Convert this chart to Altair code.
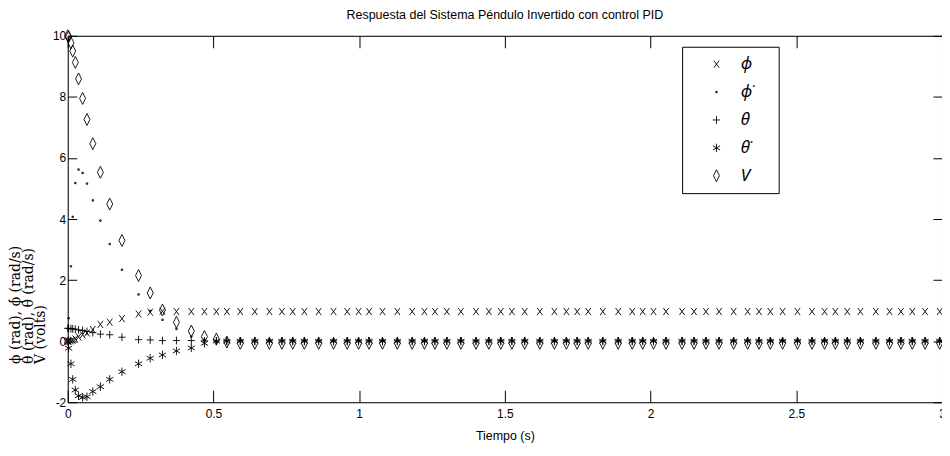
import altair as alt
import pandas as pd

# ---------------- data ----------------
title_text = "Respuesta del Sistema Péndulo Invertido con control PID"
x_title = "Tiempo (s)"
y_title = ["ϕ (rad), ϕ̇ (rad/s)", "θ (rad), θ̇ (rad/s)", "V (volts)"]

legend_labels = ["ϕ", "ϕ̇", "θ", "θ̇", "V"]

x_ticks = [0, 0.5, 1, 1.5, 2, 2.5, 3]
y_ticks = [-2, 0, 2, 4, 6, 8, 10]

time = [0.000, 0.003, 0.011, 0.017, 0.026, 0.037, 0.051, 0.066, 0.086, 0.112,
        0.144, 0.186, 0.243, 0.283, 0.325, 0.373, 0.424, 0.469, 0.510, 0.546,
        0.592, 0.642, 0.692, 0.735, 0.772, 0.812, 0.861, 0.912, 0.959, 0.998,
        1.034, 1.080, 1.131, 1.182, 1.224, 1.260, 1.301, 1.349, 1.401, 1.445,
        1.486, 1.524, 1.568, 1.620, 1.670, 1.711, 1.748, 1.786, 1.836, 1.889,
        1.937, 1.973, 2.010, 2.053, 2.108, 2.149, 2.190, 2.235, 2.285, 2.333,
        2.372, 2.411, 2.453, 2.504, 2.554, 2.597, 2.634, 2.675, 2.720, 2.773,
        2.820, 2.859, 2.898, 2.942, 2.992]

phi = [0.00, 0.00, 0.01, 0.03, 0.07, 0.14, 0.21, 0.27, 0.38, 0.55,
       0.62, 0.74, 0.89, 0.95, 0.98, 0.97, 0.97, 0.97, 0.97, 0.97,
       0.97, 0.97, 0.97, 0.97, 0.97, 0.97, 0.97, 0.97, 0.97, 0.97,
       0.97, 0.97, 0.97, 0.97, 0.97, 0.97, 0.97, 0.97, 0.97, 0.97,
       0.97, 0.97, 0.97, 0.97, 0.97, 0.97, 0.97, 0.97, 0.97, 0.97,
       0.97, 0.97, 0.97, 0.97, 0.97, 0.97, 0.97, 0.97, 0.97, 0.97,
       0.97, 0.97, 0.97, 0.97, 0.97, 0.97, 0.97, 0.97, 0.97, 0.97,
       0.97, 0.97, 0.97, 0.97, 0.97]

phi_dot = [0.00, 0.75, 2.45, 4.07, 5.18, 5.62, 5.51, 5.16, 4.61, 3.95,
           3.18, 2.34, 1.53, 0.99, 0.70, 0.40, 0.15, 0.05, 0.01, 0.00,
           0.00, 0.00, 0.00, 0.00, 0.00, 0.00, 0.00, 0.00, 0.00, 0.00,
           0.00, 0.00, 0.00, 0.00, 0.00, 0.00, 0.00, 0.00, 0.00, 0.00,
           0.00, 0.00, 0.00, 0.00, 0.00, 0.00, 0.00, 0.00, 0.00, 0.00,
           0.00, 0.00, 0.00, 0.00, 0.00, 0.00, 0.00, 0.00, 0.00, 0.00,
           0.00, 0.00, 0.00, 0.00, 0.00, 0.00, 0.00, 0.00, 0.00, 0.00,
           0.00, 0.00, 0.00, 0.00, 0.00]

theta = [0.42, 0.42, 0.41, 0.40, 0.39, 0.37, 0.35, 0.32, 0.28, 0.23,
         0.21, 0.13, 0.05, 0.04, 0.02, 0.02, 0.02, 0.01, 0.01, 0.01,
         0.01, 0.01, 0.01, 0.01, 0.01, 0.01, 0.01, 0.01, 0.01, 0.01,
         0.01, 0.01, 0.01, 0.01, 0.01, 0.01, 0.01, 0.01, 0.01, 0.01,
         0.01, 0.01, 0.01, 0.01, 0.01, 0.01, 0.01, 0.01, 0.01, 0.01,
         0.01, 0.01, 0.01, 0.01, 0.01, 0.01, 0.01, 0.01, 0.01, 0.01,
         0.01, 0.01, 0.01, 0.01, 0.01, 0.01, 0.01, 0.01, 0.01, 0.01,
         0.01, 0.01, 0.01, 0.01, 0.01]

theta_dot = [0.00, -0.23, -0.74, -1.25, -1.60, -1.79, -1.84, -1.82, -1.65, -1.49,
             -1.25, -1.00, -0.74, -0.56, -0.45, -0.32, -0.22, -0.07, 0.00, 0.00,
             0.00, 0.00, 0.00, 0.00, 0.00, 0.00, 0.00, 0.00, 0.00, 0.00,
             0.00, 0.00, 0.00, 0.00, 0.00, 0.00, 0.00, 0.00, 0.00, 0.00,
             0.00, 0.00, 0.00, 0.00, 0.00, 0.00, 0.00, 0.00, 0.00, 0.00,
             0.00, 0.00, 0.00, 0.00, 0.00, 0.00, 0.00, 0.00, 0.00, 0.00,
             0.00, 0.00, 0.00, 0.00, 0.00, 0.00, 0.00, 0.00, 0.00, 0.00,
             0.00, 0.00, 0.00, 0.00, 0.00]

volts = [10.00, 9.97, 9.77, 9.50, 9.13, 8.59, 7.95, 7.26, 6.47, 5.53,
         4.49, 3.30, 2.15, 1.58, 1.02, 0.62, 0.33, 0.15, 0.07, -0.03,
         -0.07, -0.07, -0.07, -0.07, -0.07, -0.07, -0.07, -0.07, -0.07, -0.07,
         -0.07, -0.07, -0.07, -0.07, -0.07, -0.07, -0.07, -0.07, -0.07, -0.07,
         -0.07, -0.07, -0.07, -0.07, -0.07, -0.07, -0.07, -0.07, -0.07, -0.07,
         -0.07, -0.07, -0.07, -0.07, -0.07, -0.07, -0.07, -0.07, -0.07, -0.07,
         -0.07, -0.07, -0.07, -0.07, -0.07, -0.07, -0.07, -0.07, -0.07, -0.07,
         -0.07, -0.07, -0.07, -0.07, -0.07]

series_values = [phi, phi_dot, theta, theta_dot, volts]

# ---------------- table ----------------
# legend keys carry a trailing blank (no-break space + braille blank) so that
# the legend box is as wide as the reference one
PAD = "\u00a0\u2800"
keys = [lab + PAD for lab in legend_labels]

frames = []
for key, vals in zip(keys, series_values):
    frames.append(pd.DataFrame({"t": time, "v": vals, "serie": key}))
df = pd.concat(frames, ignore_index=True)

# marker shapes (tall, as in the squeezed MATLAB figure)
SH_X = "M-0.45,-0.6L0.45,0.6M-0.45,0.6L0.45,-0.6"
SH_DOT = "M-0.12,-0.12L0.12,-0.12L0.12,0.12L-0.12,0.12Z"
SH_PLUS = "M0,-0.65L0,0.65M-0.6,0L0.6,0"
SH_STAR = "M0,-0.7L0,0.7M-0.6,-0.35L0.6,0.35M-0.6,0.35L0.6,-0.35"
SH_DIAM = "M0,-1L0.5,0L0,1L-0.5,0Z"
shapes = [SH_X, SH_DOT, SH_PLUS, SH_STAR, SH_DIAM]

SANS = "Liberation Sans, Arial, sans-serif"
SERIF = "DejaVu Serif, serif"
LEG_FONT = "Noto Sans, DejaVu Sans, sans-serif"

xscale = alt.Scale(domain=[0, 3], nice=False, zero=False)
yscale = alt.Scale(domain=[-2, 10], nice=False, zero=False)

common_axis = dict(domainColor="black", tickColor="black", labelColor="black",
                   grid=False, domainWidth=1, tickWidth=1)

x_axis = alt.Axis(values=x_ticks, labelExpr="'' + datum.value", title=x_title,
                  orient="bottom", tickSize={"expr": "-12"}, labelPadding=18,
                  labelFont=SANS, labelFontSize=12, titleFont=SANS,
                  titleFontSize=12.5, titleFontWeight="normal", titleColor="black",
                  titlePadding=10, labelFlush=False, **common_axis)

y_axis = alt.Axis(values=y_ticks, labelExpr="'' + datum.value", title=y_title,
                  orient="left", tickSize={"expr": "-9"}, labelPadding=11,
                  labelFont=SANS, labelFontSize=12, titleFont=SERIF,
                  titleFontSize=14, titleFontWeight="normal", titleColor="black",
                  titleAngle=270, titleAlign="left", titleBaseline="top",
                  titleX=-59, titleY=329, titleLineHeight=12.5,
                  labelFlush=False, **common_axis)

x_axis_top = alt.Axis(values=x_ticks, orient="top", labels=False, title=None,
                      tickSize={"expr": "-12"}, **common_axis)
y_axis_right = alt.Axis(values=y_ticks, orient="right", labels=False, title=None,
                        tickSize={"expr": "-9"}, **common_axis)

legend = alt.Legend(orient="none", legendX=617, legendY=11, title=None,
                    strokeColor="black", fillColor="white", padding=9,
                    rowPadding=10, symbolOffset=17, labelOffset=16,
                    labelFont=LEG_FONT, labelFontSize=17, labelFontStyle="italic",
                    labelColor="black", symbolSize=144, symbolStrokeWidth=0.9,
                    symbolStrokeColor="black", symbolFillColor="transparent")

points = alt.Chart(df).mark_point(filled=False, size=144, strokeWidth=0.9,
                                  color="black", opacity=1).encode(
    x=alt.X("t:Q", scale=xscale, axis=x_axis),
    y=alt.Y("v:Q", scale=yscale, axis=y_axis),
    shape=alt.Shape("serie:N", scale=alt.Scale(domain=keys, range=shapes),
                    legend=legend),
)

frame = alt.Chart(df).mark_point(opacity=0).encode(
    x=alt.X("t:Q", scale=xscale, axis=x_axis_top),
    y=alt.Y("v:Q", scale=yscale, axis=y_axis_right),
)

chart = alt.layer(points, frame).resolve_axis(
    x="independent", y="independent"
).properties(
    width=878, height=368,
    title=alt.TitleParams(text=title_text, font=SANS, fontSize=12.5,
                          fontWeight="normal", color="black", anchor="middle",
                          offset=7),
    padding={"left": 60, "top": 27, "right": 0, "bottom": 41},
    autosize=alt.AutoSizeParams(type="none"),
).configure_view(stroke=None).configure(background="white")

chart.save("out.html", embed_options={"renderer": "svg", "actions": False})
